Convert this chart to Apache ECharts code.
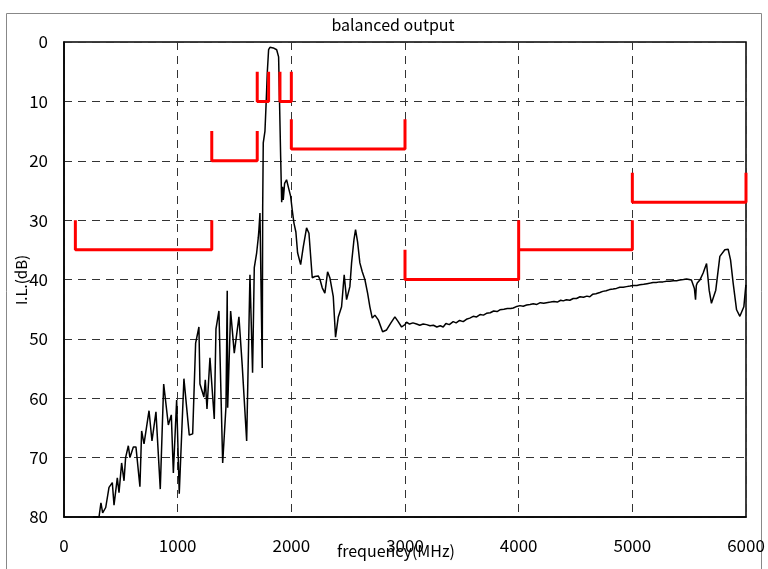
<!DOCTYPE html>
<html><head><meta charset="utf-8">
<script src="https://cdn.jsdelivr.net/npm/echarts@6/dist/echarts.min.js"></script>
<style>html,body{margin:0;padding:0;background:#fff}#c{width:768px;height:569px}</style>
</head><body><div id="c"></div>
<script>
const xTicks = [0,1000,2000,3000,4000,5000,6000];
const yTicks = [0,10,20,30,40,50,60,70,80];
const freq = [255,308,325,340,367,396,425,440,469,484,507,528,542,566,580,610,633,668,683,704,748,774,809,847,877,918,944,962,991,1014,1055,1102,1132,1158,1187,1196,1231,1243,1258,1284,1322,1337,1363,1396,1425,1436,1440,1466,1498,1539,1568,1607,1636,1650,1659,1674,1695,1709,1715,1724,1739,1744,1748,1753,1768,1777,1783,1788,1800,1812,1841,1871,1888,1894,1906,1915,1923,1929,1941,1958,1976,1994,2008,2023,2040,2055,2082,2105,2134,2155,2184,2207,2237,2252,2272,2295,2319,2339,2369,2389,2413,2442,2465,2486,2515,2530,2544,2551,2565,2583,2603,2624,2647,2671,2691,2712,2735,2765,2803,2838,2876,2911,2940,2970,2999,3014,3040,3070,3102,3130,3160,3190,3220,3250,3280,3310,3336,3360,3390,3424,3450,3480,3512,3540,3570,3600,3630,3660,3690,3717,3750,3780,3810,3835,3870,3900,3930,3952,3975,4011,4040,4070,4100,4128,4160,4190,4220,4245,4280,4310,4340,4370,4392,4420,4450,4480,4509,4540,4570,4600,4626,4650,4680,4714,4740,4770,4800,4831,4860,4890,4920,4949,4980,5010,5040,5066,5100,5130,5160,5183,5210,5240,5270,5301,5330,5360,5390,5418,5450,5477,5500,5520,5536,5546,5556,5563,5571,5594,5623,5653,5676,5696,5734,5770,5814,5843,5864,5887,5917,5946,5981,5999];
const loss = [80,80,77.6,79.3,78.4,75,74.2,78,73.4,75.9,70.9,73.9,70,68,70,68.2,68.2,74.9,65.5,67.7,62.1,67.2,62.3,75.3,57.6,64.5,62.8,72.6,60.3,76.1,56.7,66.2,66,50.7,48,57.6,59.8,56.9,61.8,53.2,63.5,48.3,45.3,70.9,61.4,41.9,61.6,45.3,52.4,46.3,54.5,67.2,39.2,39.2,55.7,38,35.5,33,31.6,28.8,28.6,54.9,28,17,15,10.9,8,5.3,1.3,0.9,1,1.3,2.5,8,19.3,27,24.4,26.6,23.8,23.2,24.6,26,28.3,30.5,32,35.5,37.5,34.5,31.3,32.2,39.7,39.5,39.4,40,41.4,42.3,38.7,39.7,42.9,49.7,46.3,44.6,39.2,43.4,41.2,37.2,37,33.3,31.6,33.7,37.2,38.7,40,42.3,44.6,46.5,46,46.8,48.8,48.5,47.3,46.3,47.1,48,47.6,47.2,47.5,47.3,47.5,47.7,47.5,47.6,47.8,47.7,48,47.8,48,47.4,47.6,47.1,47.3,46.9,47.1,46.7,46.5,46.2,46.3,45.9,46,45.7,45.6,45.3,45.4,45.1,45,44.9,44.9,44.8,44.6,44.4,44.5,44.3,44.2,44.1,44.2,43.9,44,43.9,43.8,43.7,43.8,43.5,43.6,43.4,43.5,43.2,43.2,42.9,43,42.8,42.9,42.5,42.4,42.2,42,41.9,41.7,41.6,41.5,41.3,41.3,41.2,41.1,41,41,40.9,40.8,40.7,40.6,40.5,40.5,40.4,40.4,40.3,40.3,40.2,40.2,40.1,40,39.9,40,40.1,40.2,41.5,43.4,41,40.6,40.1,38.9,37.3,41.8,44,41.8,36.1,35,34.9,36.7,40.6,45.1,46.2,44.6,40.9];
// spec mask (frequency, dB) with null breaks
const maskFreq = [100,100,1300,1300,null,1300,1300,1700,1700,null,1700,1700,1800,1800,null,1900,1900,2000,2000,null,2000,2000,3000,3000,null,3000,3000,4000,4000,null,4000,5000,5000,null,5000,5000,6000,6000];
const maskLoss = [30,35,35,30,null,15,20,20,15,null,5,10,10,5,null,5,10,10,5,null,13,18,18,13,null,35,40,40,30,null,35,35,30,null,22,27,27,22];

const trace = freq.map((f,i)=>[f,loss[i]]);
const mask = maskFreq.map((f,i)=> f===null ? [null,null] : [f,maskLoss[i]]);
const FONT = '"Noto Sans CJK JP", "Noto Sans", sans-serif';
const chart = echarts.init(document.getElementById('c'));
chart.setOption({
  animation:false,
  backgroundColor:'#fff',
  grid:{left:64,right:22,top:42,bottom:52,show:true,borderColor:'#000',borderWidth:1.5,containLabel:false,outerBoundsMode:'none'},
  xAxis:{type:'value',min:0,max:6000,interval:1000,
    axisLine:{show:true,onZero:false,lineStyle:{color:'#000',width:1.5}},
    axisTick:{show:false},
    axisLabel:{color:'#000',fontSize:17,fontFamily:FONT,margin:20,formatter:v=>xTicks.includes(v)?String(v):''},
    splitLine:{show:true,lineStyle:{color:'#333',type:[8,6],width:1}}},
  yAxis:{type:'value',min:0,max:80,interval:10,inverse:true,
    axisLine:{show:true,onZero:false,lineStyle:{color:'#000',width:1.5}},
    axisTick:{show:false},
    axisLabel:{color:'#000',fontSize:17,fontFamily:FONT,margin:16,formatter:v=>yTicks.includes(v)?String(v):''},
    splitLine:{show:true,lineStyle:{color:'#333',type:[8,6],width:1}}},
  graphic:[
    {type:'rect',shape:{x:6.5,y:13.5,width:755,height:570},style:{fill:null,stroke:'#888',lineWidth:1},silent:true,z:-1},
    {type:'text',x:393,y:17,style:{text:'balanced output',fill:'#000',font:'16px '+FONT,textAlign:'center'}},
    {type:'text',x:396,y:543,style:{text:'frequency(MHz)',fill:'#000',font:'16px '+FONT,textAlign:'center'}},
    {type:'text',x:21,y:280,rotation:Math.PI/2,style:{text:'I.L.(dB)',fill:'#000',font:'15px '+FONT,textAlign:'center',textVerticalAlign:'middle'}}
  ],
  series:[
    {type:'line',data:trace,symbol:'none',lineStyle:{color:'#000',width:1.5},z:3},
    {type:'line',data:mask,symbol:'none',connectNulls:false,lineStyle:{color:'#ff0000',width:3},z:4}
  ]
});
</script></body></html>
